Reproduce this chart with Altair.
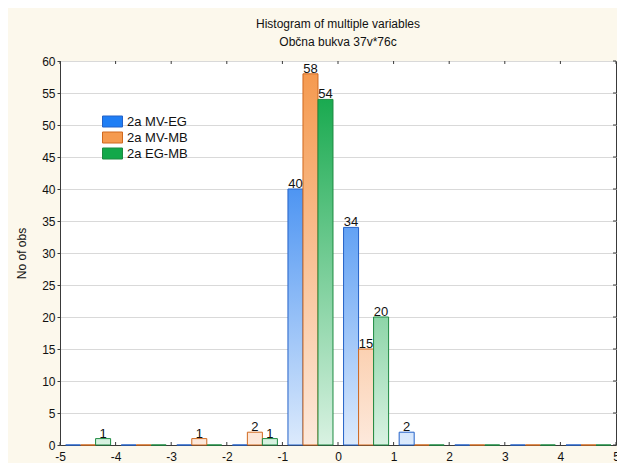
import altair as alt
import pandas as pd

# ---- data ----
bin_starts = [-5, -4, -3, -2, -1, 0, 1, 2, 3, 4]
series_names = ["2a MV-EG", "2a MV-MB", "2a EG-MB"]
counts_mv_eg = [0, 0, 0, 0, 40, 34, 2, 0, 0, 0]
counts_mv_mb = [0, 0, 1, 2, 58, 15, 0, 0, 0, 0]
counts_eg_mb = [1, 0, 0, 1, 54, 20, 0, 0, 0, 0]
x_tick_values = [-5, -4, -3, -2, -1, 0, 1, 2, 3, 4, 5]
y_tick_values = [0, 5, 10, 15, 20, 25, 30, 35, 40, 45, 50, 55, 60]

# ---- styles ----
FONT = "Liberation Sans"
fill_full = ["#2a80f0", "#f59a50", "#1aaa50"]
fill_light = ["#dceafc", "#fde9dc", "#d9f2e2"]
edge_cols = ["#2462c8", "#d0691f", "#1d8a40"]
legend_fill = ["#1f7ef5", "#f59a4f", "#12a84a"]
FRAME = "#3a3a3a"
BG = "#fcf8ec"
W, H = 556, 384
BAR_W = 0.27
GAP = 0.1

all_counts = [counts_mv_eg, counts_mv_mb, counts_eg_mb]
rows = []
for k, (name, cs) in enumerate(zip(series_names, all_counts)):
    for b, c in zip(bin_starts, cs):
        rows.append({"bin": b, "series": name, "k": k, "count": c})
df = pd.DataFrame(rows)


def mix(c1, c2, t):
    a = [int(c1[i:i + 2], 16) for i in (1, 3, 5)]
    b = [int(c2[i:i + 2], 16) for i in (1, 3, 5)]
    return "#" + "".join(f"{round(a[j] + (b[j] - a[j]) * t):02x}" for j in range(3))


x_scale = alt.Scale(domain=[-5, 5], nice=False, zero=False)
y_scale = alt.Scale(domain=[0, 60], nice=False)

x_axis = alt.Axis(
    values=x_tick_values, title=None, grid=False, ticks=False,
    labelFont=FONT, labelFontSize=12, labelColor="#111", labelPadding=6,
    labelFlush=False, labelOverlap=False, labelBound=False,
    domainColor=FRAME, labelExpr="'' + datum.value",
)
y_axis = alt.Axis(
    values=y_tick_values, title="No of obs", grid=True, gridColor="#d9d9d9",
    tickColor=FRAME, tickSize=3, domainColor=FRAME,
    labelFont=FONT, labelFontSize=12, labelColor="#111", labelPadding=2,
    titleFont=FONT, titleFontSize=12, titleFontWeight="normal", titleColor="#111",
    titlePadding=13, labelFlush=False, labelExpr="'' + datum.value",
)

X = alt.X("x0:Q", scale=x_scale, axis=x_axis)
X2 = alt.X2("x1:Q")
Y = alt.Y("count:Q", scale=y_scale, axis=y_axis)

base = alt.Chart(df).transform_calculate(
    x0=f"datum.bin + {GAP} + {BAR_W} * datum.k",
    x1=f"datum.bin + {GAP} + {BAR_W} * (datum.k + 1)",
    xc=f"datum.bin + {GAP} + {BAR_W} * (datum.k + 0.5)",
)

layers = []
# zero-height bars (coloured baseline strokes)
for k, name in enumerate(series_names):
    layers.append(
        base.transform_filter(f"datum.count == 0 && datum.k == {k}")
        .mark_bar(fill="transparent", stroke=edge_cols[k], strokeWidth=1.5)
        .encode(x=X, x2=X2, y=Y, y2=alt.datum(0))
    )

# gradient bars, one layer per non-zero bar
for k, name in enumerate(series_names):
    for b, c in zip(bin_starts, all_counts[k]):
        if c <= 0:
            continue
        t = min(1.0, c / 50.0)
        top = mix(fill_light[k], fill_full[k], t)
        grad = alt.LinearGradient(
            gradient="linear",
            stops=[alt.GradientStop(color=top, offset=0),
                   alt.GradientStop(color=fill_light[k], offset=1)],
            x1=0, x2=0, y1=0, y2=1,
        )
        layers.append(
            base.transform_filter(f"datum.k == {k} && datum.bin == {b}")
            .mark_bar(fill=grad, stroke=edge_cols[k], strokeWidth=1)
            .encode(x=X, x2=X2, y=Y, y2=alt.datum(0))
        )

# count labels
layers.append(
    base.transform_filter("datum.count > 0")
    .mark_text(font=FONT, fontSize=13, color="#111", baseline="alphabetic", dy=-1)
    .encode(x=alt.X("xc:Q", scale=x_scale, axis=x_axis), y=Y, text="count:Q")
)

# inward ticks on top / bottom / right
xt = pd.DataFrame({"t": x_tick_values})
yt = pd.DataFrame({"t": y_tick_values})
layers.append(
    alt.Chart(xt).mark_rule(color=FRAME).encode(
        x=alt.X("t:Q", scale=x_scale, axis=x_axis), y=alt.value(0), y2=alt.value(3))
)
layers.append(
    alt.Chart(xt).mark_rule(color=FRAME).encode(
        x=alt.X("t:Q", scale=x_scale, axis=x_axis), y=alt.value(H), y2=alt.value(H - 3))
)
layers.append(
    alt.Chart(yt).mark_rule(color=FRAME).encode(
        y=alt.Y("t:Q", scale=y_scale, axis=y_axis), x=alt.value(W), x2=alt.value(W - 3))
)

# legend carrier (no visible marks)
RECT = "M-2,-1.1H2V1.1H-2Z"
leg = alt.Legend(
    title=None, orient="none", legendX=46, legendY=54, padding=0,
    symbolType=RECT, symbolSize=100, symbolStrokeWidth=1,
    labelFont=FONT, labelFontSize=13, labelColor="#111", labelOffset=8,
    rowPadding=1, symbolOpacity=1,
)
layers.append(
    alt.Chart(df).transform_filter("false")
    .mark_point(shape=RECT, filled=True, size=100, opacity=1)
    .encode(
        x=alt.X("bin:Q", scale=x_scale, axis=x_axis),
        y=Y,
        fill=alt.Fill("series:N", scale=alt.Scale(domain=series_names, range=legend_fill), legend=leg),
        stroke=alt.Stroke("series:N", scale=alt.Scale(domain=series_names, range=edge_cols), legend=leg),
    )
)

chart = (
    alt.layer(*layers)
    .properties(
        width=W, height=H,
        autosize=alt.AutoSizeParams(type="none"),
        padding={"left": 52, "top": 53, "right": 1, "bottom": 18},
        background=BG,
        title=alt.TitleParams(
            "Histogram of multiple variables",
            subtitle="Občna bukva 37v*76c",
            anchor="middle", frame="group", font=FONT, fontSize=12,
            fontWeight="normal", color="#111", subtitleFont=FONT,
            subtitleFontSize=12, subtitleColor="#111", subtitlePadding=6,
            offset=6,
        ),
    )
    .configure_view(stroke=FRAME, strokeWidth=1, fill="white")
)

chart.save("out.html", embed_options={"renderer": "svg", "actions": False})
